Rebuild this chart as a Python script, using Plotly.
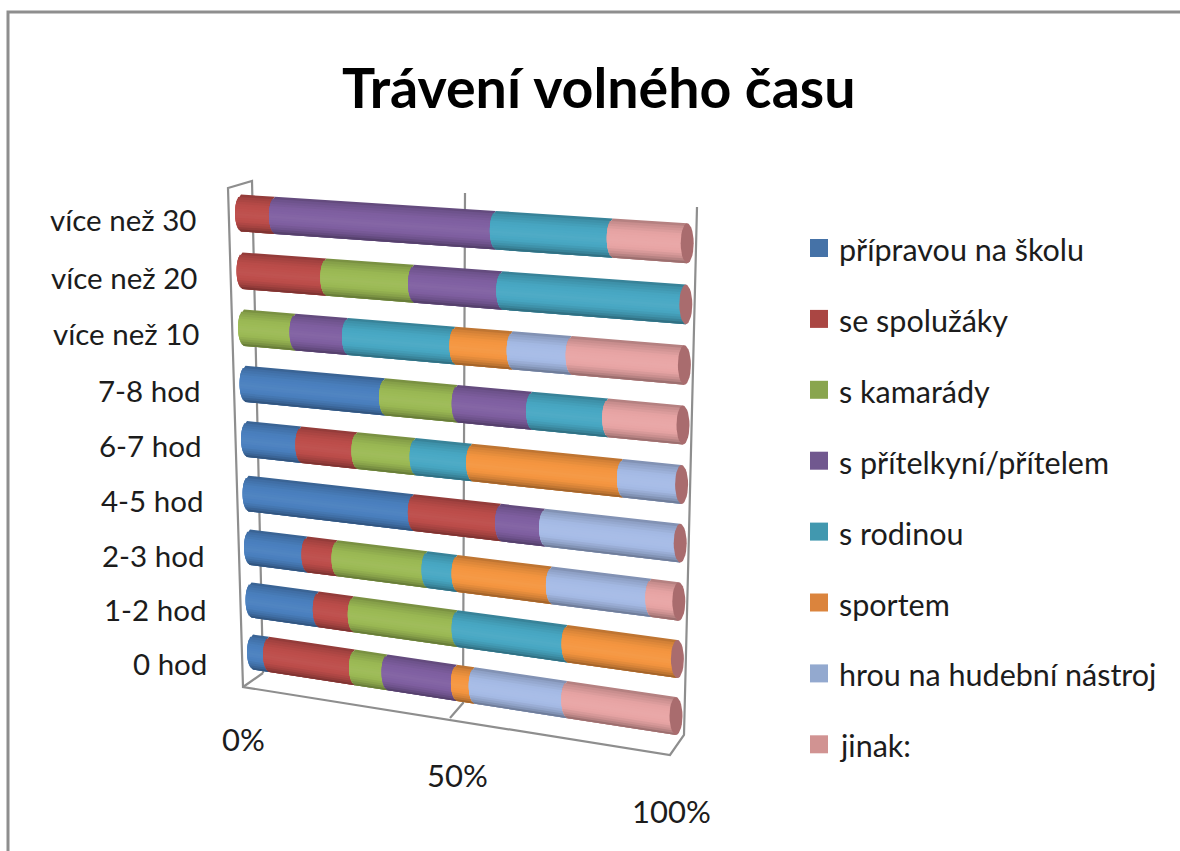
import math
import plotly.graph_objects as go

TITLE = "Trávení volného času"
categories = ["0 hod", "1-2 hod", "2-3 hod", "4-5 hod", "6-7 hod", "7-8 hod",
              "více než 10", "více než 20", "více než 30"]
series_names = ["přípravou na školu", "se spolužáky", "s kamarády", "s přítelkyní/přítelem",
                "s rodinou", "sportem", "hrou na hudební nástroj", "jinak:"]
pripravou = [3.8, 15.8, 13.4, 38.3, 12.5, 31.9, 0, 0, 0]
spoluzaky = [20.3, 8.2, 7.0, 20.2, 12.9, 0, 0, 18.9, 7.6]
kamarady = [7.7, 24.4, 21.0, 0, 13.4, 16.6, 11.7, 19.8, 0]
pritel = [16.4, 0, 0, 10.2, 0, 17.0, 11.9, 19.9, 49.5]
rodina = [0, 25.8, 7.0, 0, 13.0, 17.4, 24.4, 41.4, 26.2]
sport = [4.2, 25.8, 22.0, 0, 34.7, 0, 13.0, 0, 0]
hudba = [21.9, 0, 23.2, 31.3, 13.5, 0, 13.4, 0, 0]
jinak = [25.7, 0, 6.4, 0, 0, 17.1, 25.6, 0, 16.7]
all_series = [pripravou, spoluzaky, kamarady, pritel, rodina, sport, hudba, jinak]
bar_colors = ["#4a80bf", "#bd4d4a", "#9cba55", "#8060a2", "#48a8c4", "#f59640", "#a6bbe6", "#e8a5a5"]
legend_colors = ["#4572a7", "#aa4643", "#89a54e", "#71588f", "#4198af", "#db843d", "#93a9cf", "#d19392"]
pct_ticks = [0, 50, 100]
pct_labels = ["0%", "50%", "100%"]

FONT = "Lato, sans-serif"
GRAY = "#8e8e8e"
INK = "#1c1c1c"


# ---- oblique 3-D projection: (percent, row, across-bar v) -> picture position
def y_left(r):
    return 652 - 52 * r - 0.82 * r * (r - 1) / 2


def y_right(r):
    return 716 - 57 * r - 0.6 * r * (r - 1) / 2


def project(p, r, v=0.0):
    u = p / 100
    xl = 253 - 1.5 * r
    xr = 676 + 1.4 * r
    half = (17.5 + 0.12 * r) * (1 - u) + (19.0 + 0.12 * r) * u
    yc = y_left(r) * (1 - u) + y_right(r) * u
    e = 6.0
    return xl + (xr - xl) * u - e * math.sqrt(max(0, 1 - v * v)), yc + half * v


def shade(hex_color, f):
    c = [int(hex_color[i:i + 2], 16) for i in (1, 3, 5)]
    if f <= 1:
        c = [x * f for x in c]
    else:
        c = [x + (255 - x) * (f - 1) for x in c]
    return "rgb(%d,%d,%d)" % tuple(round(x) for x in c)


def band_factor(v):
    pts = [(-1, 0.74), (-0.8, 0.87), (-0.45, 0.98), (0.1, 1.04), (0.45, 0.98), (0.75, 0.84), (1, 0.62)]
    for (a, fa), (b, fb) in zip(pts, pts[1:]):
        if a <= v <= b:
            return fa + (fb - fa) * (v - a) / (b - a)
    return 1


fig = go.Figure()


def polyline(pts, width=2.2, color=GRAY):
    fig.add_trace(go.Scatter(x=[p[0] for p in pts], y=[p[1] for p in pts], mode="lines",
                             line=dict(color=color, width=width), hoverinfo="skip", showlegend=False))


# outer frame
polyline([(8, 860), (8, 12), (1190, 12)], width=3)

# chart box
BACK_TOP_L, BACK_BOT_L = (252, 181), (263, 673)
FRONT_TOP_L, FRONT_BOT_L = (228, 188), (243, 687)
FRONT_BOT_R, BACK_BOT_R, BACK_TOP_R = (670, 755), (684, 735), (697, 207)
polyline([BACK_BOT_L, BACK_TOP_L, FRONT_TOP_L, FRONT_BOT_L, FRONT_BOT_R, BACK_BOT_R, BACK_TOP_R])
polyline([FRONT_BOT_L, BACK_BOT_L])
polyline([(465, 193), (463, 703), (450, 718)])

# bars: one filled trace per series and per shading band; each band overlaps the next
N = 16
for s, (vals, col) in enumerate(zip(all_series, bar_colors)):
    for b in range(N):
        v0 = -1 + 2 * b / N
        v1 = min(1, -1 + 2 * (b + 3) / N)
        xs, ys = [], []
        for r, _ in enumerate(categories):
            start = sum(all_series[k][r] for k in range(s))
            total = sum(all_series[k][r] for k in range(len(all_series)))
            if vals[r] <= 0:
                continue
            a = 100 * start / total
            z = 100 * (start + vals[r]) / total
            corners = [project(a, r, v0), project(z, r, v0), project(z, r, v1), project(a, r, v1)]
            xs += [c[0] for c in corners] + [corners[0][0], None]
            ys += [c[1] for c in corners] + [corners[0][1], None]
        c = shade(col, band_factor(v0 + 1 / N))
        fig.add_trace(go.Scatter(x=xs, y=ys, mode="lines", fill="toself", fillcolor=c,
                                 line=dict(color=c, width=0), hoverinfo="skip", showlegend=False))

# end caps
for r, _ in enumerate(categories):
    xs, ys = [], []
    steps = 28
    for i in range(steps + 1):
        t = 2 * math.pi * i / steps
        v = math.sin(t)
        x0, y0 = project(100, r, v)
        xm = x0 + 6 * math.sqrt(max(0, 1 - v * v))
        xs.append(xm + 6.5 * math.cos(t))
        ys.append(y0)
    fig.add_trace(go.Scatter(x=xs, y=ys, mode="lines", fill="toself", fillcolor="#a96c6e",
                             line=dict(color="#a96c6e", width=0), hoverinfo="skip", showlegend=False))

# legend
for i, (name, col) in enumerate(zip(series_names, legend_colors)):
    y = 248 + 70.9 * i
    fig.add_trace(go.Scatter(x=[819], y=[y], mode="markers",
                             marker=dict(symbol="square", size=18, color=col, line=dict(width=0)),
                             hoverinfo="skip", showlegend=False))
    fig.add_annotation(x=837, y=y + 1, text=name, showarrow=False, xanchor="left", yanchor="middle",
                       font=dict(family=FONT, size=30.5, color=INK))

# category labels
for r, name in enumerate(categories):
    fig.add_annotation(x=209 - 1.4 * r, y=663 - 53.5 * r - 0.54 * r * (r - 1) / 2, text=name,
                       showarrow=False, xanchor="right", yanchor="middle",
                       font=dict(family=FONT, size=29.5, color=INK))

# percent labels
for p, lab in zip(pct_ticks, pct_labels):
    fig.add_annotation(x=243 + 4.28 * p, y=739 + 0.72 * p, text=lab, showarrow=False,
                       xanchor="center", yanchor="middle", font=dict(family=FONT, size=31, color=INK))

fig.add_annotation(x=599, y=86, text=TITLE, showarrow=False, xanchor="center", yanchor="middle",
                   font=dict(family=FONT, size=55.5, color="#000000", weight="bold"))

fig.update_layout(width=1180, height=851, margin=dict(l=0, r=0, t=0, b=0),
                  paper_bgcolor="white", plot_bgcolor="white", showlegend=False,
                  xaxis=dict(range=[0, 1180], visible=False, fixedrange=True),
                  yaxis=dict(range=[851, 0], visible=False, fixedrange=True))
fig.write_html("out.html", config={"displayModeBar": False},
               post_script="document.body.style.margin='0';document.body.style.overflow='hidden';")
